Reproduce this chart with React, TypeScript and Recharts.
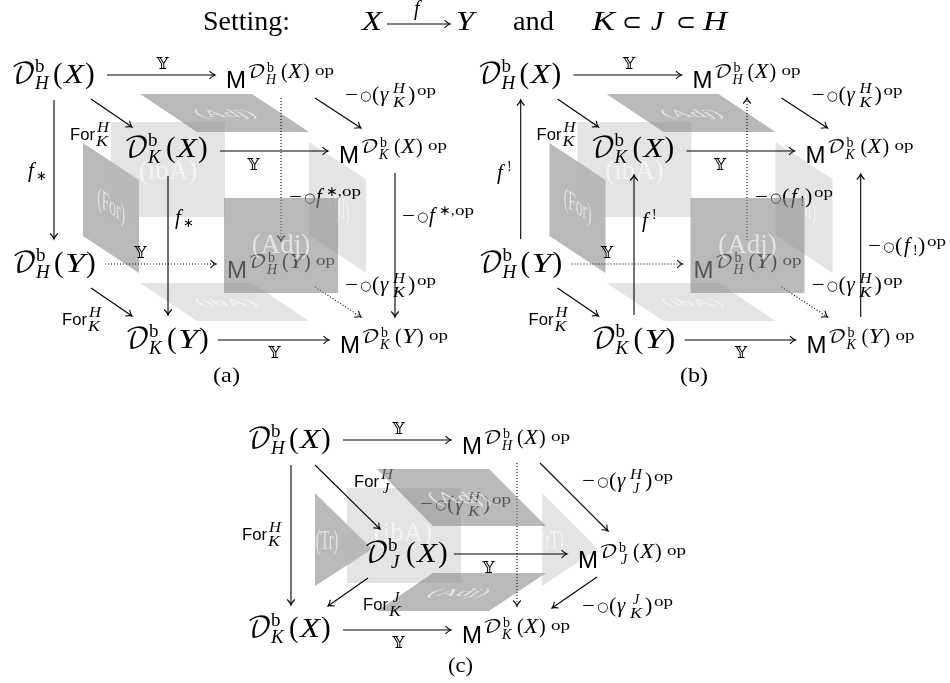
import { Scatter, ScatterChart, XAxis, YAxis } from "recharts";

const W = 950;
const H = 683;
const PANEL_B_DX = 466.5;

const SERIF = "'Liberation Serif'";
const SANS = "'Liberation Sans'";
const DEJAVU = "'DejaVu Sans'";
const SCRIPT = "'DejaVu Math TeX Gyre', 'DejaVu Serif', 'Liberation Serif'";

// text run: text, dx, dy, font size, font kind, forced width
type Run = [string, number, number, number, string, number?];
type Pt = { x: number; y: number };

const fontOf = (k: string) => {
  if (k === "s") return { fontFamily: SANS };
  if (k === "c") return { fontFamily: SCRIPT };
  if (k === "b") return { fontFamily: DEJAVU };
  if (k === "i") return { fontFamily: SERIF, fontStyle: "italic" as const };
  return { fontFamily: SERIF };
};

// J is narrow in this font, stretching it looks bold
const letterW = (t: string) => (t === "J" ? undefined : 12);

const bigD = (sub: string, arg: string): Run[] => [
  ["𝒟", -1, 0, 27, "c", 25],
  ["b", 23, -11, 19, "r"],
  [sub, sub === "J" ? 26 : 23, 6, 19, "i"],
  ["(", 41, 0, 29, "r"],
  [arg, 52, 0, 28, "i", 20],
  [")", 73, 0, 29, "r"],
];

const powM = (sub: string, arg: string): Run[] => [
  ["M", 0, 0, 24, "s", 20],
  ["𝒟", 21, -10, 19, "c", 19],
  ["b", 41, -16, 14, "r"],
  [sub, sub === "J" ? 43 : 40, -4, 14, "i"],
  ["(", 55, -10, 20, "r"],
  [arg, 62, -10, 20, "i", 14],
  [")", 77, -10, 20, "r"],
  ["op", 89, -13, 14, "r", 19],
];

const RING = "○";

const gamma = (sub: string, sup: string): Run[] => [
  ["−", 0, 0, 20, "r", 13],
  [RING, 15, -1, 13, "b"],
  ["(", 27, 0, 22, "r"],
  ["γ", 35, 0, 21, "i"],
  [sup, sup === "J" ? 51 : 48, -8, 14, "i", letterW(sup)],
  [sub, sub === "J" ? 51 : 48, 6, 14, "i", letterW(sub)],
  [")", 63, 0, 22, "r"],
  ["op", 72, -6, 14, "r", 19],
];

const preFstar = (): Run[] => [
  ["−", 0, 0, 20, "r", 13],
  [RING, 15, -1, 13, "b"],
  ["f", 27, 0, 21, "i"],
  ["∗,", 37, -7, 14, "r"],
  ["op", 53, -7, 14, "r", 19],
];

const preFshriek = (): Run[] => [
  ["−", 0, 0, 20, "r", 13],
  [RING, 15, -1, 13, "b"],
  ["(", 27, 0, 22, "r"],
  ["f", 36, 0, 21, "i"],
  ["!", 45, 3, 14, "r"],
  [")", 50, 0, 22, "r"],
  ["op", 59, -6, 14, "r", 19],
];

const forget = (sub: string, sup: string): Run[] => [
  ["For", 0, 0, 17, "s", 25],
  [sup, sup === "J" ? 30 : 27, -8, 14, "i", letterW(sup)],
  [sub, sub === "J" ? 29 : 26, 6, 14, "i", letterW(sub)],
];

const one = (t: string, size: number, kind: string, w?: number): Run[] => [[t, 0, 0, size, kind, w]];
const yoneda = one("𝕐", 17, "c");

// node labels of a cube, shared by panels (a) and (b)
const cubeLabels: [number, number, Run[]][] = [
  [12, 83, bigD("H", "X")],
  [226, 88, powM("H", "X")],
  [125, 157, bigD("K", "X")],
  [339, 163, powM("K", "X")],
  [13, 272, bigD("H", "Y")],
  [227, 278, powM("H", "Y")],
  [126, 348, bigD("K", "Y")],
  [340, 353, powM("K", "Y")],
  [155, 69, yoneda],
  [246, 170, yoneda],
  [133, 258, yoneda],
  [267, 358, yoneda],
  [70, 140, forget("K", "H")],
  [62, 325, forget("K", "H")],
  [345, 101, gamma("K", "H")],
  [345, 291, gamma("K", "H")],
];

const panelALabels: [number, number, Run[]][] = [
  [28, 177, [["f", 0, 0, 21, "i"], ["∗", 8, 3, 13, "r"]]],
  [175, 224, [["f", 0, 0, 21, "i"], ["∗", 8, 3, 13, "r"]]],
  [289, 203, preFstar()],
  [402, 222, preFstar()],
  [213, 382, one("(a)", 22, "r", 27)],
];

const panelBLabels: [number, number, Run[]][] = [
  [497, 179, [["f", 0, 0, 21, "i"], ["!", 10, -8, 14, "r"]]],
  [642, 227, [["f", 0, 0, 21, "i"], ["!", 10, -8, 14, "r"]]],
  [755, 203, preFshriek()],
  [868, 252, preFshriek()],
  [680, 382, one("(b)", 22, "r", 28)],
];

const panelCLabels: [number, number, Run[]][] = [
  [248, 448, bigD("H", "X")],
  [462, 454, powM("H", "X")],
  [365, 562, bigD("J", "X")],
  [578, 568, powM("J", "X")],
  [248, 637, bigD("K", "X")],
  [462, 643, powM("K", "X")],
  [391, 434, yoneda],
  [481, 573, yoneda],
  [391, 648, yoneda],
  [354, 487, forget("J", "H")],
  [242, 540, forget("K", "H")],
  [363, 610, forget("K", "J")],
  [420, 510, gamma("K", "H")],
  [582, 487, gamma("J", "H")],
  [582, 612, gamma("K", "J")],
  [448, 672, one("(c)", 22, "r", 25)],
];

const titleLabels: [number, number, Run[]][] = [
  [203, 30, one("Setting:", 27, "r", 87)],
  [362, 30, one("X", 28, "i", 20)],
  [456, 30, one("Y", 28, "i", 18)],
  [414, 15, one("f", 20, "i")],
  [513, 30, one("and", 27, "r", 41)],
  [592, 30, one("K", 28, "i", 23)],
  [622, 30, one("⊂", 24, "b", 20)],
  [651, 30, one("J", 28, "i")],
  [676, 30, one("⊂", 24, "b", 20)],
  [703, 30, one("H", 28, "i", 24)],
];

// shaded faces
const D = "dark";
const L = "light";
type Face = [string, [number, number][]];
const cubeBackFaces: Face[] = [
  [D, [[83, 143], [139, 180], [139, 273], [83, 236]]],
  [L, [[111, 122], [225, 122], [225, 217], [111, 217]]],
  [L, [[309, 142], [366, 179], [366, 273], [309, 235]]],
  [D, [[140, 94], [252, 94], [309, 132], [197, 132]]],
  [L, [[140, 283], [252, 283], [309, 321], [197, 321]]],
];
const cubeFrontFace: Face = [D, [[224, 198], [338, 198], [338, 293], [224, 293]]];
const panelCFaces: Face[] = [
  [D, [[315, 493], [372, 549], [315, 586]]],
  [L, [[347, 488], [461, 488], [461, 583], [347, 583]]],
  [L, [[542, 493], [598, 549], [542, 586]]],
  [D, [[433, 573], [546, 573], [489, 611], [377, 611]]],
];
const panelCTopFace: Face = [D, [[377, 469], [489, 469], [546, 526], [433, 526]]];

// arrows: from, to, dotted
type Arrow = [number, number, number, number, boolean?];
const cubeArrows: Arrow[] = [
  [107, 75, 215, 75],
  [220, 151, 328, 151],
  [218, 340, 329, 340],
  [105, 264, 216, 264, true],
  [91, 99, 132, 127],
  [315, 98, 361, 128],
  [91, 288, 132, 316],
  [315, 287, 361, 317, true],
];
const panelAArrows: Arrow[] = [
  [54, 100, 54, 239],
  [168, 176, 168, 315],
  [281, 98, 281, 241, true],
  [395, 173, 395, 317],
];
const panelBArrows: Arrow[] = [
  [520.7, 239, 520.7, 100],
  [634, 315, 634, 175],
  [747, 240, 747, 98, true],
  [860.7, 317, 860.7, 174],
];
const panelCArrows: Arrow[] = [
  [343, 440, 451, 440],
  [454, 554, 567, 554],
  [343, 630, 451, 630],
  [291, 465, 291, 605],
  [517, 463, 517, 606, true],
  [315, 465, 380, 529],
  [540, 463, 608, 531],
  [368, 578, 328, 606],
  [597, 577, 552, 608],
];
const titleArrows: Arrow[] = [[387, 24, 450, 24]];

// white captions on the faces: centre x, centre y, text, matrix a b c d
type Caption = [number, number, string, number, number, number, number];
const cubeBackCaptions: Caption[] = [
  [224, 113, "(Adj)", 1, 0, 0.6, 0.4],
  [168, 170, "(ibA)", 1, 0, 0, 1],
  [111, 205, "(For)", 0.5, 0.33, 0, 1],
  [339, 206, "(Ill)", 0.5, 0.33, 0, 1],
  [225, 302, "(ibA)", 1, 0, 0.6, 0.4],
];
const cubeFrontCaption: Caption = [281, 244, "(Adj)", 1, 0, 0, 1];
const panelCCaptions: Caption[] = [
  [327, 540, "(Tr)", 0.53, 0, 0, 1],
  [403, 532, "(ibA)", 1, 0, 0, 1],
  [552, 540, "(rT)", 0.53, 0, 0, 1],
  [460, 592, "(Adj)", 1, 0, -0.6, 0.4],
];
const panelCTopCaption: Caption = [458, 498, "(Adj)", 1, 0, 0.6, 0.6];

const shiftLabels = (list: [number, number, Run[]][], dx: number) =>
  list.map(([x, y, r]) => [x + dx, y, r] as [number, number, Run[]]);
const shiftFace = ([k, pts]: Face, dx: number): Face => [k, pts.map(([x, y]) => [x + dx, y] as [number, number])];
const shiftArrow = ([a, b, c, d, e]: Arrow, dx: number): Arrow => [a + dx, b, c + dx, d, e];
const shiftCaption = (c: Caption, dx: number): Caption => [c[0] + dx, ...c.slice(1)] as Caption;

const noDot = () => <g />;

const faceSeries = (face: Face, key: string) => (
  <Scatter
    key={key}
    data={face[1].map(([x, y]) => ({ x, y }))}
    isAnimationActive={false}
    shape={noDot}
    line={(p: { points: Pt[] }) => (
      <polygon
        points={p.points.map((q) => `${q.x},${q.y}`).join(" ")}
        fill={face[0] === D ? "#8a8a8a" : "#b8b8b8"}
        fillOpacity={face[0] === D ? 0.6 : 0.38}
        stroke="none"
      />
    )}
  />
);

const arrowSeries = (a: Arrow, key: string) => (
  <Scatter
    key={key}
    data={[{ x: a[0], y: a[1] }, { x: a[2], y: a[3] }]}
    isAnimationActive={false}
    shape={noDot}
    line={(p: { points: Pt[] }) => {
      const [s, e] = p.points;
      const ang = (Math.atan2(e.y - s.y, e.x - s.x) * 180) / Math.PI;
      return (
        <g stroke="#000" strokeWidth={1.1} fill="none">
          <line x1={s.x} y1={s.y} x2={e.x} y2={e.y} strokeDasharray={a[4] ? "1 2" : undefined} />
          <path transform={`translate(${e.x},${e.y}) rotate(${ang})`} d="M-5.5 -3.8 Q-2.5 -0.8 0 0 Q-2.5 0.8 -5.5 3.8" />
        </g>
      );
    }}
  />
);

const labelSeries = (list: [number, number, Run[]][], key: string) => (
  <Scatter
    key={key}
    data={list.map(([x, y, runs]) => ({ x, y, runs }))}
    isAnimationActive={false}
    shape={(p: any) => (
      <g fill="#000">
        {p.payload.runs.map((r: Run, i: number) => (
          <text
            key={i}
            x={p.cx + r[1]}
            y={p.cy + r[2]}
            fontSize={r[3]}
            textLength={r[5]}
            lengthAdjust={r[5] ? "spacingAndGlyphs" : undefined}
            {...fontOf(r[4])}
          >
            {r[0]}
          </text>
        ))}
      </g>
    )}
  />
);

const captionSeries = (list: Caption[], key: string) => (
  <Scatter
    key={key}
    data={list.map(([x, y, text, a, b, c, d]) => ({ x, y, text, m: [a, b, c, d] }))}
    isAnimationActive={false}
    shape={(p: any) => (
      <text
        transform={`translate(${p.cx},${p.cy}) matrix(${p.payload.m.join(" ")} 0 0)`}
        y={9}
        textAnchor="middle"
        fontSize={27}
        fontFamily={SERIF}
        fill="#fff"
        fillOpacity={0.6}
      >
        {p.payload.text}
      </text>
    )}
  />
);

export default function App() {
  return (
    <div style={{ position: "absolute", left: 0, top: 0, width: W, height: H, willChange: "transform" }}>
      <ScatterChart width={W} height={H} margin={{ top: 0, right: 0, bottom: 0, left: 0 }}>
        <XAxis type="number" dataKey="x" domain={[0, W]} hide />
        <YAxis type="number" dataKey="y" domain={[0, H]} reversed hide />

        {cubeBackFaces.map((f, i) => faceSeries(f, `fa${i}`))}
        {cubeBackFaces.map((f, i) => faceSeries(shiftFace(f, PANEL_B_DX), `fb${i}`))}
        {panelCFaces.map((f, i) => faceSeries(f, `fc${i}`))}

        {captionSeries(cubeBackCaptions, "ca")}
        {captionSeries(cubeBackCaptions.map((c) => shiftCaption(c, PANEL_B_DX)), "cb")}
        {captionSeries(panelCCaptions, "cc")}

        {[...cubeArrows, ...panelAArrows, ...panelCArrows, ...titleArrows, ...panelBArrows].map((a, i) =>
          arrowSeries(a, `a${i}`),
        )}
        {cubeArrows.map((a, i) => arrowSeries(shiftArrow(a, PANEL_B_DX), `ab${i}`))}

        {labelSeries(titleLabels, "lt")}
        {labelSeries(cubeLabels, "la")}
        {labelSeries(shiftLabels(cubeLabels, PANEL_B_DX), "lb")}
        {labelSeries(panelALabels, "lpa")}
        {labelSeries(panelBLabels, "lpb")}
        {labelSeries(panelCLabels, "lpc")}

        {faceSeries(cubeFrontFace, "fronta")}
        {faceSeries(shiftFace(cubeFrontFace, PANEL_B_DX), "frontb")}
        {faceSeries(panelCTopFace, "topc")}
        {captionSeries([cubeFrontCaption, shiftCaption(cubeFrontCaption, PANEL_B_DX), panelCTopCaption], "cf")}
      </ScatterChart>
    </div>
  );
}
